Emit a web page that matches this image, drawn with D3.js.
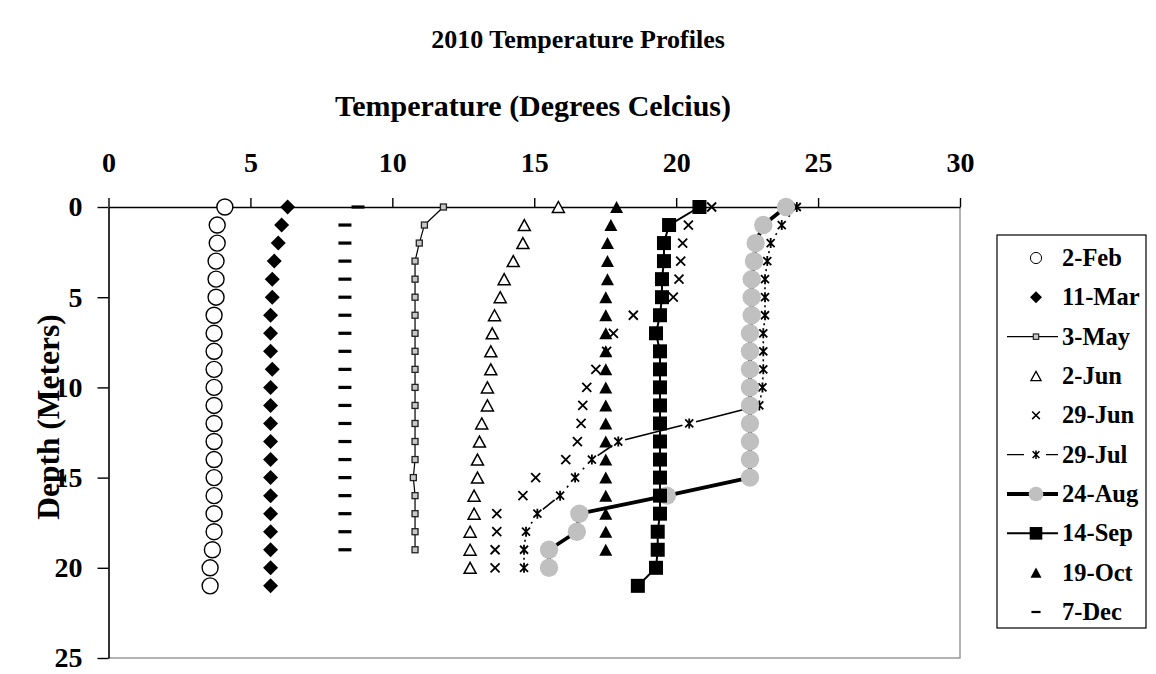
<!DOCTYPE html>
<html>
<head>
<meta charset="utf-8">
<script src="https://cdn.jsdelivr.net/npm/d3@7"></script>
<style>
  body { margin: 0; background: #fff; }
  svg text { font-family: "Liberation Serif", "Times New Roman", serif !important; font-weight: bold; fill: #000; }
</style>
</head>
<body>
<div id="chart"></div>
<script>
// depth of each reading (meters), one per row
const depthM = [0, 1, 2, 3, 4, 5, 6, 7, 8, 9, 10, 11, 12, 13, 14, 15, 16, 17, 18, 19, 20, 21];

// temperature readings (deg C) per survey date, top to bottom
const feb2 = [4.1, 3.83, 3.83, 3.79, 3.79, 3.79, 3.72, 3.72, 3.72, 3.72, 3.72, 3.72, 3.72, 3.72, 3.72, 3.72, 3.72, 3.72, 3.72, 3.66, 3.58, 3.58];
const mar11 = [6.31, 6.1, 5.98, 5.84, 5.77, 5.77, 5.71, 5.71, 5.71, 5.77, 5.71, 5.71, 5.71, 5.71, 5.71, 5.71, 5.71, 5.71, 5.71, 5.71, 5.71, 5.71];
const may3 = [11.8, 11.13, 10.95, 10.8, 10.8, 10.8, 10.8, 10.8, 10.8, 10.8, 10.8, 10.8, 10.8, 10.8, 10.8, 10.74, 10.8, 10.8, 10.8, 10.8];
const jun2 = [15.85, 14.65, 14.6, 14.26, 13.94, 13.8, 13.6, 13.52, 13.47, 13.47, 13.35, 13.35, 13.15, 13.07, 13.0, 13.0, 12.88, 12.88, 12.74, 12.74, 12.74];
const jun29 = [21.25, 20.43, 20.23, 20.16, 20.1, 19.9, 18.49, 17.79, 17.55, 17.17, 16.85, 16.71, 16.65, 16.52, 16.11, 15.05, 14.6, 13.68, 13.68, 13.62, 13.62];
const jul29 = [24.25, 23.72, 23.33, 23.21, 23.13, 23.13, 23.13, 23.07, 23.07, 23.07, 23.04, 22.93, 20.46, 17.96, 17.03, 16.44, 15.91, 15.11, 14.71, 14.64, 14.64];
const aug24 = [23.87, 23.07, 22.8, 22.74, 22.66, 22.66, 22.66, 22.6, 22.6, 22.6, 22.6, 22.6, 22.6, 22.6, 22.6, 22.6, 19.67, 16.59, 16.5, 15.52, 15.52];
const sep14 = [20.82, 19.75, 19.57, 19.57, 19.5, 19.5, 19.43, 19.29, 19.43, 19.43, 19.43, 19.43, 19.43, 19.43, 19.43, 19.43, 19.43, 19.43, 19.35, 19.35, 19.29, 18.65];
const oct19 = [17.9, 17.7, 17.58, 17.58, 17.58, 17.52, 17.52, 17.52, 17.52, 17.52, 17.52, 17.52, 17.52, 17.52, 17.52, 17.52, 17.52, 17.52, 17.52, 17.52];
const dec7 = [8.79, 8.33, 8.33, 8.33, 8.33, 8.33, 8.33, 8.33, 8.33, 8.33, 8.33, 8.33, 8.33, 8.33, 8.33, 8.33, 8.33, 8.33, 8.33, 8.33];

const seriesNames = ["2-Feb", "11-Mar", "3-May", "2-Jun", "29-Jun", "29-Jul", "24-Aug", "14-Sep", "19-Oct", "7-Dec"];
const tempTicks = [0, 5, 10, 15, 20, 25, 30];
const depthTicks = [0, 5, 10, 15, 20, 25];

// how each series is drawn (Excel-like marker/line styles)
const series = [
    {name: seriesNames[0], values: feb2, marker: "circleOpen", line: null},
    {name: seriesNames[1], values: mar11, marker: "diamond", line: null},
    {name: seriesNames[2], values: may3, marker: "squareSmall", line: "thin"},
    {name: seriesNames[3], values: jun2, marker: "triOpen", line: null},
    {name: seriesNames[4], values: jun29, marker: "cross", line: null},
    {name: seriesNames[5], values: jul29, marker: "star", line: "dashed"},
    {name: seriesNames[6], values: aug24, marker: "circleGray", line: "thick"},
    {name: seriesNames[7], values: sep14, marker: "square", line: "medium"},
    {name: seriesNames[8], values: oct19, marker: "triFilled", line: null},
    {name: seriesNames[9], values: dec7, marker: "dash", line: null}
];

const width = 1156, height = 674;
const plot = {left: 108.5, right: 960, top: 207, bottom: 658};
const serif = "'Liberation Serif', 'Times New Roman', serif";

const svg = d3.select("#chart").append("svg")
    .attr("width", width)
    .attr("height", height)
    .attr("font-family", serif);

svg.append("rect").attr("width", width).attr("height", height).attr("fill", "#fff");

const x = d3.scaleLinear().domain([0, 30]).range([plot.left, plot.right]);
const y = d3.scaleLinear().domain([0, 25]).range([plot.top, plot.bottom]);

// plot frame: gray right + bottom edges
svg.append("path")
    .attr("d", `M${plot.left},${plot.bottom}H${plot.right}V${plot.top}`)
    .attr("fill", "none")
    .attr("stroke", "#9a9a9a")
    .attr("stroke-width", 1.5);

// top temperature axis
const xAxis = svg.append("g")
    .attr("transform", `translate(0,${plot.top})`)
    .call(d3.axisTop(x).tickValues(tempTicks).tickSize(9).tickPadding(26).tickSizeOuter(0));

// left depth axis
const yAxis = svg.append("g")
    .attr("transform", `translate(${plot.left},0)`)
    .call(d3.axisLeft(y).tickValues(depthTicks).tickSize(11).tickPadding(15).tickSizeOuter(0));

[xAxis, yAxis].forEach(ax => {
    ax.attr("font-family", serif).attr("font-size", null);
    ax.select(".domain").attr("stroke", "#000").attr("stroke-width", 1.6);
    ax.selectAll(".tick line").attr("stroke", "#000").attr("stroke-width", 1.4);
    ax.selectAll(".tick text")
        .style("font-family", serif)
        .style("font-weight", "bold")
        .style("font-size", "28px")
        .attr("fill", "#000");
});

// titles
svg.append("text")
    .attr("x", 578).attr("y", 48)
    .attr("text-anchor", "middle")
    .attr("font-size", 26)
    .text("2010 Temperature Profiles");

svg.append("text")
    .attr("x", 533).attr("y", 116)
    .attr("text-anchor", "middle")
    .attr("font-size", 30)
    .text("Temperature (Degrees Celcius)");

svg.append("text")
    .attr("transform", "translate(59,417) rotate(-90)")
    .attr("text-anchor", "middle")
    .attr("font-size", 31.5)
    .text("Depth (Meters)");

// marker shapes, s = scale factor
function drawMarker(g, type, cx, cy, s) {
    const m = g.append("g").attr("transform", `translate(${cx},${cy}) scale(${s})`);
    switch (type) {
        case "circleOpen":
            m.append("circle").attr("r", 8).attr("fill", "#fff").attr("stroke", "#000").attr("stroke-width", 1.4);
            break;
        case "diamond":
            m.append("path").attr("d", "M0,-7.5L7.5,0L0,7.5L-7.5,0Z").attr("fill", "#000");
            break;
        case "squareSmall":
            m.append("rect").attr("x", -3).attr("y", -3).attr("width", 6).attr("height", 6)
                .attr("fill", "#c8c8c8").attr("stroke", "#222").attr("stroke-width", 1.3);
            break;
        case "triOpen":
            m.append("path").attr("d", "M0,-5.5L6,5.5L-6,5.5Z").attr("fill", "#fff")
                .attr("stroke", "#000").attr("stroke-width", 1.5);
            break;
        case "cross":
            m.append("path").attr("d", "M-4.5,-4.5L4.5,4.5M-4.5,4.5L4.5,-4.5")
                .attr("stroke", "#000").attr("stroke-width", 1.8);
            break;
        case "star":
            m.append("path").attr("d", "M-4,-4L4,4M-4,4L4,-4M0,-5V5")
                .attr("stroke", "#000").attr("stroke-width", 1.8);
            break;
        case "circleGray":
            m.append("circle").attr("r", 9.2).attr("fill", "#c0c0c0");
            break;
        case "square":
            m.append("rect").attr("x", -7).attr("y", -7).attr("width", 14).attr("height", 14).attr("fill", "#000");
            break;
        case "triFilled":
            m.append("path").attr("d", "M0,-6L6.5,6L-6.5,6Z").attr("fill", "#000");
            break;
        case "dash":
            m.append("rect").attr("x", -6.5).attr("y", -1.6).attr("width", 13).attr("height", 3.2).attr("fill", "#000");
            break;
    }
}

const lineStyles = {
    thin: {w: 1.2},
    medium: {w: 2},
    thick: {w: 3.8},
    dashed: {w: 1.6}
};

const plotG = svg.append("g");

series.forEach(s => {
    const pts = s.values.map((v, i) => [x(v), y(depthM[i])]);
    const g = plotG.append("g").attr("class", "series");
    if (s.line === "dashed") {
        // Excel long-dash style: each segment restarts, short gaps next to markers
        for (let i = 1; i < pts.length; i++) {
            const [x0, y0] = pts[i - 1], [x1, y1] = pts[i];
            const L = Math.hypot(x1 - x0, y1 - y0);
            const gap = L < 28 ? L / 2 - 1 : 7;
            const t0 = gap / L, t1 = 1 - gap / L;
            g.append("line")
                .attr("x1", x0 + (x1 - x0) * t0).attr("y1", y0 + (y1 - y0) * t0)
                .attr("x2", x0 + (x1 - x0) * t1).attr("y2", y0 + (y1 - y0) * t1)
                .attr("stroke", "#000").attr("stroke-width", lineStyles.dashed.w);
        }
    } else if (s.line) {
        g.append("path")
            .attr("d", d3.line()(pts))
            .attr("fill", "none")
            .attr("stroke", "#000")
            .attr("stroke-width", lineStyles[s.line].w)
            .attr("stroke-linejoin", "round");
    }
    pts.forEach(p => drawMarker(g, s.marker, p[0], p[1], 1));
});

// legend
const legend = svg.append("g");
legend.append("rect")
    .attr("x", 997).attr("y", 235).attr("width", 149).attr("height", 393)
    .attr("fill", "#fff").attr("stroke", "#000").attr("stroke-width", 1.2);

const legendY = d3.scalePoint().domain(seriesNames).range([258, 612]);

series.forEach(s => {
    const cy = legendY(s.name);
    if (s.line === "dashed") {
        legend.append("path").attr("d", `M1007,${cy}H1024M1046,${cy}H1058`)
            .attr("stroke", "#000").attr("stroke-width", 1.4);
    } else if (s.line) {
        legend.append("path").attr("d", `M1007,${cy}H1058`)
            .attr("stroke", "#000").attr("stroke-width", lineStyles[s.line].w);
    }
    const sc = {circleOpen: 0.7, diamond: 0.8, squareSmall: 0.9, triOpen: 0.85, cross: 0.85,
                star: 0.85, circleGray: 0.8, square: 0.9, triFilled: 0.85, dash: 0.7}[s.marker];
    drawMarker(legend, s.marker, 1036, cy, sc);
    legend.append("text")
        .attr("x", 1062).attr("y", cy + 8)
        .attr("font-size", 24.5)
        .text(s.name);
});
</script>
</body>
</html>
